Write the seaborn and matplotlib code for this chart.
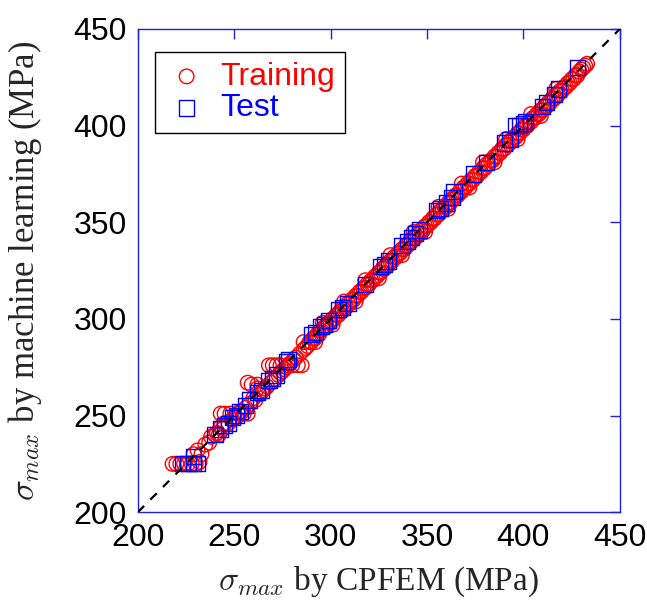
import matplotlib
matplotlib.use("Agg")
import matplotlib.pyplot as plt
import seaborn as sns
import pandas as pd

# ---------------- data ----------------
train_x = [218, 220, 222, 224, 226, 228, 230, 232, 229, 231, 233,
           235, 237, 238, 240, 241, 242, 243, 244, 245, 243, 245, 248, 252, 255, 257,
           247, 249, 250, 251, 253, 254, 256, 258, 257, 259, 262, 260, 261, 263, 264,
           265, 266, 267, 268, 270, 272, 280, 283, 285, 269, 271, 273, 274, 275, 276,
           277, 278, 279, 281, 282, 284, 286, 287, 288, 289, 290, 291, 292, 293, 294,
           295, 296, 297, 298, 299, 300, 301, 302, 303, 304, 305, 306, 307, 308, 309,
           310, 311, 312, 313, 314, 315, 316, 317, 318, 319, 320, 321, 322, 323, 324,
           325, 326, 327, 328, 329, 330, 331, 332, 333, 334, 335, 336, 337, 338, 339,
           340, 341, 342, 343, 344, 345, 346, 347, 348, 349, 350, 351, 352, 353, 354,
           355, 356, 357, 358, 359, 360, 361, 362, 363, 364, 365, 366, 367, 368, 369,
           370, 371, 372, 373, 374, 375, 376, 377, 378, 379, 380, 381, 382, 383, 384,
           385, 386, 387, 388, 389, 390, 391, 392, 393, 394, 395, 396, 397, 398, 399,
           400, 401, 402, 403, 404, 405, 406, 407, 408, 409, 410, 411, 412, 413, 414,
           415, 416, 417, 418, 419, 420, 421, 422, 423, 424, 425, 426, 427, 428, 429,
           430, 431, 432, 433,
           262, 274, 286, 296, 307, 318, 331, 343, 356, 368, 379, 391, 404, 417,
           292, 301, 313, 325, 337, 349, 361, 372, 385, 397, 409]
train_y = [225, 225, 225, 225, 225, 225, 225, 226, 230, 232, 230,
           235, 236, 239, 240, 241, 240, 244, 243, 246, 251, 251, 251, 251, 251, 251,
           246, 248, 249, 249, 252, 252, 254, 256, 267, 266, 266, 259, 258, 261, 262,
           263, 264, 265, 276, 276, 276, 276, 276, 276, 267, 269, 271, 272, 273, 274,
           275, 276, 277, 279, 280, 282, 284, 285, 286, 288, 288, 290, 290, 292, 292,
           294, 295, 296, 296, 298, 298, 300, 300, 302, 302, 304, 304, 306, 306, 308,
           308, 310, 310, 312, 312, 314, 314, 316, 316, 318, 318, 320, 320, 322, 322,
           324, 324, 326, 326, 328, 328, 330, 330, 332, 332, 334, 334, 336, 336, 338,
           338, 340, 340, 342, 342, 344, 344, 346, 346, 348, 348, 350, 350, 352, 352,
           354, 354, 356, 356, 358, 358, 360, 360, 362, 362, 364, 364, 366, 366, 368,
           368, 370, 370, 372, 372, 374, 374, 376, 376, 378, 378, 380, 380, 382, 382,
           384, 384, 386, 386, 388, 388, 390, 390, 392, 392, 394, 394, 396, 396, 398,
           398, 400, 400, 402, 402, 404, 404, 406, 406, 408, 408, 410, 410, 412, 412,
           414, 414, 416, 416, 418, 418, 420, 420, 422, 422, 424, 424, 426, 426, 428,
           429, 430, 431, 432,
           264, 276, 288, 298, 309, 320, 333, 345, 358, 370, 381, 393, 406, 419,
           288, 297, 309, 321, 333, 345, 357, 368, 381, 393, 405]

test_x = [223, 226, 229, 231, 229, 240, 243, 245, 247, 249, 251, 253, 256, 258,
          262, 264, 268, 270, 272, 277, 278, 290, 292, 295, 297, 299, 304, 306,
          309, 318, 326, 328, 330, 337, 340, 342, 344, 346, 355, 357, 360, 363,
          364, 374, 381, 390, 393, 396, 398, 400, 401, 410, 412, 416, 418, 428]
test_y = [225, 225, 225, 225, 229, 240, 243, 245, 246, 249, 250, 252, 255, 258,
          262, 263, 268, 269, 271, 278, 279, 292, 293, 296, 297, 299, 305, 306,
          308, 318, 327, 328, 330, 338, 340, 342, 344, 346, 356, 357, 360, 363,
          366, 375, 381, 391, 393, 400, 400, 401, 402, 410, 412, 416, 419, 430]

identity = [200, 450]
ticks = [200, 250, 300, 350, 400, 450]
series_labels = ["Training", "Test"]

train_df = pd.DataFrame({"x": train_x, "y": train_y})
test_df = pd.DataFrame({"x": test_x, "y": test_y})
diag_df = pd.DataFrame({"x": identity, "y": identity})

# ---------------- plot ----------------
sns.set_style("white")
plt.rcParams["font.family"] = ["Liberation Sans", "DejaVu Sans"]
plt.rcParams["mathtext.fontset"] = "cm"

fig = plt.figure(figsize=(6.47, 6.04), dpi=100)
ax = fig.add_axes([0.213, 0.152, 0.745, 0.800])

sns.lineplot(data=diag_df, x="x", y="y", ax=ax, color="black",
             linestyle=(0, (4, 4)), linewidth=1.6, zorder=3)
sns.scatterplot(data=train_df, x="x", y="y", ax=ax, marker="o", s=110,
                facecolor="none", edgecolor="#ff0000", linewidth=1.0,
                label=series_labels[0], zorder=1)
sns.scatterplot(data=test_df, x="x", y="y", ax=ax, marker="s", s=120,
                facecolor="none", edgecolor="#0000ff", linewidth=1.0,
                label=series_labels[1], zorder=2)

ax.set_xlim(identity)
ax.set_ylim(identity)
ax.set_xticks(ticks)
ax.set_yticks(ticks)
ax.tick_params(direction="in", length=7, width=1, color="#2222dd",
               labelsize=23, labelcolor="black", top=True, right=True,
               pad=8)
for s in ax.spines.values():
    s.set_visible(True)
    s.set_color("#2222dd")
    s.set_linewidth(1.0)

ax.set_xlabel(r"$\sigma_{max}$ by CPFEM (MPa)", fontsize=24,
              family=["Liberation Serif"], labelpad=8)
ax.set_ylabel(r"$\sigma_{max}$ by machine learning (MPa)", fontsize=25,
              family=["Liberation Serif"])
ax.yaxis.set_label_coords(-0.195, 0.5)

leg = ax.legend(loc="upper left", bbox_to_anchor=(0.035, 0.952),
                borderaxespad=0, fancybox=False, framealpha=1,
                edgecolor="black", fontsize=23, handletextpad=0.35,
                borderpad=0.3, labelspacing=0.05, handlelength=1.4)
leg.get_frame().set_linewidth(1.0)
for txt, col in zip(leg.get_texts(), ["#ff0000", "#0000ff"]):
    txt.set_color(col)

fig.savefig("out.png", dpi=100)
